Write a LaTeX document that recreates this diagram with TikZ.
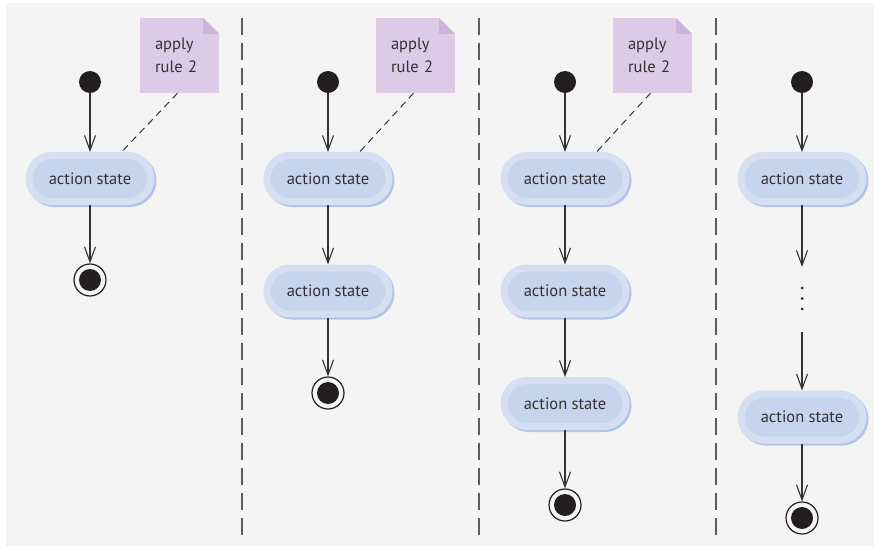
\documentclass[tikz,border=0pt]{standalone}
\usepackage{fontspec}
\setmainfont{PT Sans}
\usetikzlibrary{arrows.meta}
\definecolor{bgc}{HTML}{F4F4F4}
\definecolor{pillin}{HTML}{C6D4ED}
\definecolor{pillout}{HTML}{D5DFF2}
\definecolor{pillsh}{HTML}{B2C5E6}
\definecolor{notec}{HTML}{DCCAE6}
\definecolor{foldc}{HTML}{CCB2DC}
\definecolor{inkc}{HTML}{231F20}
\definecolor{txtc}{HTML}{333333}
\tikzset{
  actbox/.style={rectangle, rounded corners=23pt, minimum width=122pt, minimum height=46pt,
    line width=7pt, draw=pillout, fill=pillin, text=txtc, font=\fontsize{16.5pt}{19pt}\selectfont,
    preaction={draw=pillsh, line width=7pt, transform canvas={xshift=2pt,yshift=-2pt}}},
  initdot/.style={circle, fill=inkc, minimum size=22pt, inner sep=0pt},
  finaldot/.style={circle, draw=inkc, line width=1.2pt, fill=bgc, minimum size=32pt, inner sep=0pt,
    path picture={\fill[inkc] (path picture bounding box.center) circle (11pt);}},
  notebox/.style={rectangle, fill=notec, minimum height=75pt, inner xsep=15pt, inner ysep=0pt,
    text width=49pt, align=left, text=txtc, font=\fontsize{16.5pt}{23pt}\selectfont,
    path picture={
      \fill[bgc] (path picture bounding box.north east) -- ++(-16pt,0) -- ++(16pt,-16pt) -- cycle;
      \fill[foldc] ([xshift=-16pt]path picture bounding box.north east) -- ++(0,-16pt) -- ++(16pt,0) -- cycle;}},
  flow/.style={draw=txtc, line width=1.1pt, -{Straight Barb[length=15pt,width=11pt,line width=1.1pt]}},
  notelink/.style={draw=txtc, line width=1pt, dash pattern=on 7pt off 5pt},
  sep/.style={draw=txtc!80, line width=1.2pt, dash pattern=on 17pt off 8pt},
  elldot/.style={circle, fill=inkc, minimum size=3pt, inner sep=0pt}
}
\begin{document}
\begin{tikzpicture}[x=1pt,y=-1pt]
\useasboundingbox (0,0) rectangle (874,548);
\fill[bgc] (6,3) rectangle (874,546);
% separators
\coordinate (s1t) at (242,18); \coordinate (s1b) at (242,536);
\coordinate (s2t) at (479,18); \coordinate (s2b) at (479,536);
\coordinate (s3t) at (716,18); \coordinate (s3b) at (716,536);
\draw[sep] (s1t) -- (s1b);
\draw[sep] (s2t) -- (s2b);
\draw[sep] (s3t) -- (s3b);
% column 1
\node[initdot] (i1) at (90,82) {};
\node[actbox] (a11) at (90,178.5) {action state};
\node[finaldot] (f1) at (90,280) {};
\node[notebox] (n1) at (179.5,55.5) {apply\\rule 2};
\draw[flow] (i1) -- (a11);
\draw[flow] (a11) -- (f1);
\draw[notelink] ([xshift=-2pt]n1.south) -- (a11.40);
% column 2
\node[initdot] (i2) at (328,82) {};
\node[actbox] (a21) at (328,178.5) {action state};
\node[actbox] (a22) at (328,291) {action state};
\node[finaldot] (f2) at (328,393) {};
\node[notebox] (n2) at (415.5,55.5) {apply\\rule 2};
\draw[flow] (i2) -- (a21);
\draw[flow] (a21) -- (a22);
\draw[flow] (a22) -- (f2);
\draw[notelink] ([xshift=-2pt]n2.south) -- (a21.40);
% column 3
\node[initdot] (i3) at (565,82) {};
\node[actbox] (a31) at (565,178.5) {action state};
\node[actbox] (a32) at (565,291) {action state};
\node[actbox] (a33) at (565,403.5) {action state};
\node[finaldot] (f3) at (565,505) {};
\node[notebox] (n3) at (652.5,55.5) {apply\\rule 2};
\draw[flow] (i3) -- (a31);
\draw[flow] (a31) -- (a32);
\draw[flow] (a32) -- (a33);
\draw[flow] (a33) -- (f3);
\draw[notelink] ([xshift=-2pt]n3.south) -- (a31.40);
% column 4
\node[initdot] (i4) at (802,82) {};
\node[actbox] (a41) at (802,178.5) {action state};
\coordinate (c4a) at (802,267);
\node[elldot] (e1) at (802,288) {};
\node[elldot] (e2) at (802,298.5) {};
\node[elldot] (e3) at (802,309) {};
\coordinate (c4b) at (802,332);
\node[actbox] (a42) at (802,417) {action state};
\node[finaldot] (f4) at (802,518) {};
\draw[flow] (i4) -- (a41);
\draw[flow] (a41) -- (c4a);
\draw[flow] (c4b) -- (a42);
\draw[flow] (a42) -- (f4);
\end{tikzpicture}
\end{document}
